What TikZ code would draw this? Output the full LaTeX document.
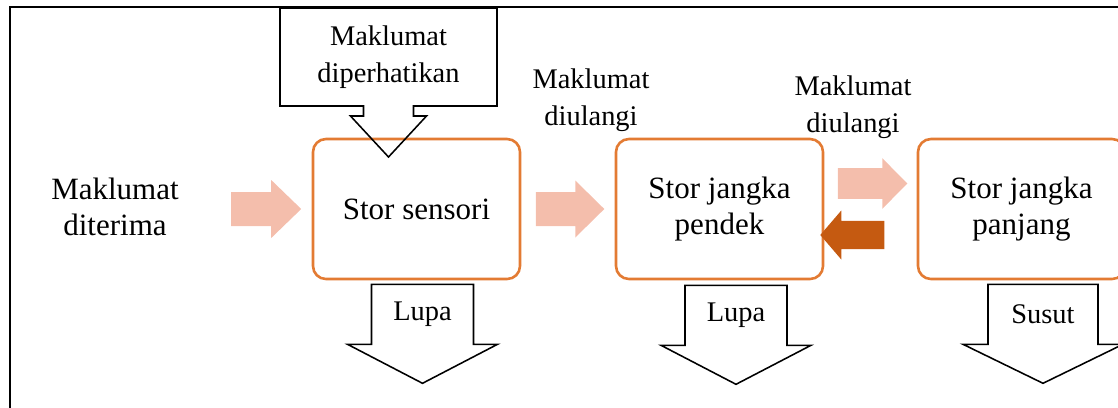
\documentclass[tikz,border=0pt]{standalone}
\usepackage{fontspec}
\setmainfont{Liberation Serif}
\usepackage{tikz}
\usetikzlibrary{calc}
\newdimen\px \px=0.387pt
\definecolor{boxorange}{HTML}{E37B33}
\definecolor{flowpink}{HTML}{F4BEAC}
\definecolor{backbrown}{HTML}{C55A11}
\newcommand\bigtext{\fontsize{12}{14}\selectfont}
\newcommand\smalltext{\fontsize{11}{14.3}\selectfont}
\tikzstyle{store}=[draw=boxorange,line width=1pt,rounded corners=5pt,minimum width=207\px,minimum height=140\px,align=center,font=\bigtext,inner sep=0pt]
\tikzstyle{note}=[align=center,font=\smalltext,inner sep=0pt]
\tikzstyle{bignote}=[align=center,font=\bigtext,inner sep=0pt]
\tikzstyle{outline}=[draw=black,line width=0.6pt,line join=miter]
% #1 colour, #2 tail, #3 length, #4 half shaft, #5 half head, #6 head length
\newcommand\blockarrow[6]{%
  \fill[#1] #2 ++(0,{-(#4)}) -- ++({#3-(#6)},0) -- ++(0,{-(#5-#4)}) -- ++(#6,#5)
    -- ++({-(#6)},#5) -- ++(0,{-(#5-#4)}) -- ++({-(#3-(#6))},0) -- cycle;}
% #1 name, #2 top centre, #3 half shaft, #4 half head, #5 text
\newcommand\lostarrow[5]{%
  \draw[outline] #2 coordinate (#1-top) ++({-(#3)},0) -- ++({2*#3},0) -- ++(0,60) -- ++({#4-#3},0)
    -- ++({-(#4)},39) -- ++({-(#4)},-39) -- ++({#4-#3},0) -- cycle;
  \node[note] (#1) at ($(#1-top)+(0,30)$) {#5};}

\begin{document}
\begin{tikzpicture}[x=0.387pt,y=-0.387pt]
  \useasboundingbox (0,0) rectangle (1118,407);
  \clip (0,0) rectangle (1118,407);
  \draw[line width=0.8pt] (10,7) rectangle (1140,430);

  % stores
  \node[store] (sensori) at (416.5,209) {Stor sensori};
  \node[store] (pendek) at (719.5,209) {Stor jangka\\pendek};
  \node[store] (panjang) at (1021.5,209) {Stor jangka\\panjang};

  % texts
  \node[bignote] (terima) at (115,207) {Maklumat\\diterima};
  \node[note] (ulang1) at (591,100) {Maklumat\\diulangi};
  \node[note] (ulang2) at (853,107) {Maklumat\\diulangi};
  \node[note] (perhati) at (388.5,57) {Maklumat\\diperhatikan};
  \draw[outline,shift={(perhati.center)}] (-108.5,-49) -- (108.5,-49) -- (108.5,49)
    -- (25,49) -- (25,59) -- (38,59) -- (0,100) -- (-38,59) -- (-25,59) -- (-25,49)
    -- (-108.5,49) -- cycle;

  % flow
  \blockarrow{flowpink}{($(sensori.west)+(-80.5,0)$)}{70}{17}{29}{30}
  \blockarrow{flowpink}{($(sensori.east)+(14.5,0)$)}{68.5}{17}{28.5}{29}
  \blockarrow{flowpink}{($(pendek.east)+(13.5,-25.5)$)}{69.5}{15.3}{25.3}{25}
  \blockarrow{backbrown}{($(pendek.east)+(60,26)$)}{-64}{14.2}{24.5}{-21}

  % lost
  \lostarrow{lupa1}{($(sensori.south)+(6,4)$)}{51}{75}{Lupa}
  \lostarrow{lupa2}{($(pendek.south)+(16.5,5)$)}{51}{75}{Lupa}
  \lostarrow{susut}{($(panjang.south)+(21.5,4)$)}{55}{80}{Susut}
\end{tikzpicture}
\end{document}
